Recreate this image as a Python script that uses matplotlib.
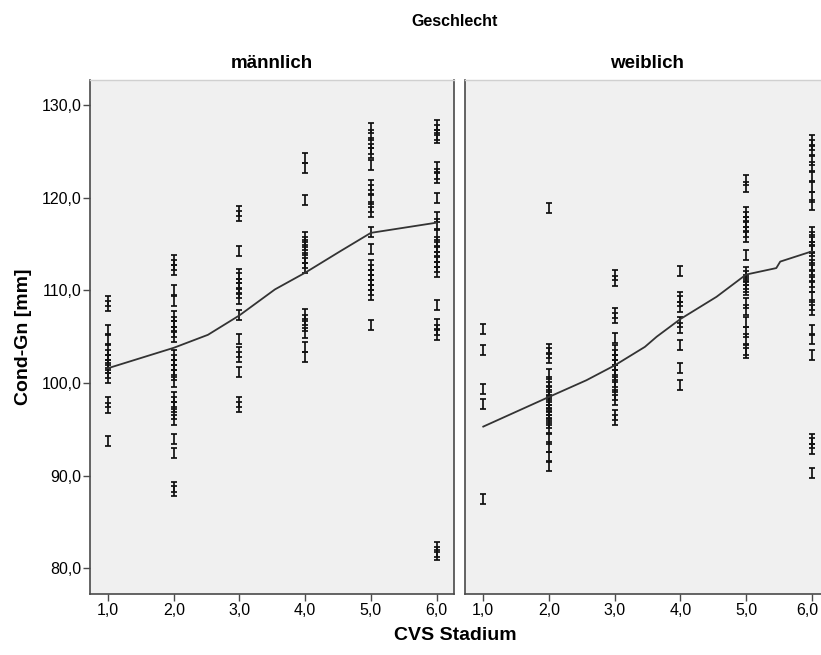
import matplotlib
matplotlib.use("Agg")
import matplotlib.pyplot as plt
import matplotlib.transforms as mtransforms
from matplotlib.path import Path
import numpy as np

plt.rcParams['font.family'] = ['Liberation Sans', 'DejaVu Sans']

# ---------------- data ----------------
panels = ["männlich", "weiblich"]
x_ticks = [1.0, 2.0, 3.0, 4.0, 5.0, 6.0]
x_ticklabels = ["1,0", "2,0", "3,0", "4,0", "5,0", "6,0"]
y_ticks = [80, 90, 100, 110, 120, 130]
y_ticklabels = ["80,0", "90,0", "100,0", "110,0", "120,0", "130,0"]

# männlich: values per CVS stage
m_s1 = [108.3, 108.9, 105.7, 104.7, 103.6, 103.0, 102.5, 101.9, 101.6, 101.1, 100.5, 98.0, 97.3, 93.7]
m_s2 = [113.3, 112.7, 112.2, 110.0, 108.9, 107.2, 106.6, 106.1, 105.5, 105.0, 103.0, 102.5, 101.9,
        101.4, 100.9, 100.1, 98.5, 98.0, 97.4, 96.7, 96.0, 94.0, 92.5, 88.8, 88.3]
m_s3 = [118.6, 118.0, 114.2, 111.8, 111.3, 110.7, 110.2, 109.7, 109.1, 107.3, 104.8, 103.4, 102.8,
        101.2, 98.0, 97.4]
m_s4 = [124.3, 123.2, 119.7, 115.8, 115.2, 114.9, 114.3, 113.5, 112.9, 112.4, 107.5, 106.8, 106.1,
        105.4, 103.9, 102.8]
m_s5 = [127.5, 126.8, 125.9, 125.3, 124.8, 123.5, 121.4, 120.8, 119.9, 119.0, 118.5, 116.3, 114.5,
        112.7, 112.2, 111.7, 111.1, 110.6, 110.0, 109.5, 106.3]
m_s6 = [127.8, 127.3, 126.8, 126.4, 123.3, 122.6, 122.1, 120.0, 117.9, 117.2, 116.0, 115.2, 114.7,
        114.2, 113.6, 113.1, 112.5, 112.0, 108.4, 106.4, 105.7, 105.2, 82.3, 81.8, 81.4]

# weiblich
w_s1 = [105.8, 103.6, 99.4, 97.7, 87.5]
w_s2 = [118.9, 103.7, 103.2, 102.7, 101.0, 100.1, 99.6, 99.1, 98.7, 98.2, 97.8, 97.4, 97.1, 96.7,
        96.4, 96.0, 95.7, 95.1, 94.0, 93.1, 92.0, 91.0]
w_s3 = [111.6, 111.0, 107.6, 107.0, 104.9, 103.6, 103.0, 102.5, 101.9, 101.4, 100.9, 100.1, 99.6,
        98.7, 98.2, 96.5, 96.0]
w_s4 = [112.1, 109.3, 108.8, 108.2, 106.6, 105.9, 104.1, 101.6, 99.8]
w_s5 = [121.9, 121.2, 118.5, 117.9, 117.4, 116.9, 116.3, 115.8, 113.8, 112.0, 111.5, 111.1, 110.7,
        110.4, 110.0, 108.6, 107.9, 106.6, 105.5, 104.8, 103.6, 103.2]
w_s6 = [126.2, 125.7, 125.0, 124.1, 123.3, 122.3, 121.2, 120.1, 119.2, 116.3, 115.8, 115.4, 114.7,
        114.2, 113.5, 112.7, 112.2, 111.5, 110.9, 110.4, 109.3, 108.4, 107.9, 105.7, 104.8, 103.0,
        94.0, 93.5, 92.9, 90.3]

m_groups = [m_s1, m_s2, m_s3, m_s4, m_s5, m_s6]
w_groups = [w_s1, w_s2, w_s3, w_s4, w_s5, w_s6]

# fit lines
m_fit_x = [1.0, 2.0, 2.52, 3.0, 3.54, 4.0, 4.53, 5.0, 6.0]
m_fit_y = [101.6, 103.8, 105.2, 107.3, 110.1, 111.9, 114.2, 116.2, 117.3]
w_fit_x = [1.0, 2.0, 2.57, 3.0, 3.46, 3.64, 4.0, 4.55, 5.0, 5.46, 5.52, 6.0]
w_fit_y = [95.3, 98.5, 100.3, 101.9, 103.9, 105.0, 106.9, 109.3, 111.7, 112.4, 113.1, 114.2]

# ---------------- drawing ----------------
W, H = 821, 655
fig = plt.figure(figsize=(W / 100, H / 100), dpi=100)

ibeam = Path([(-0.28, 0.5), (0.28, 0.5), (0, 0.5), (0, -0.5), (-0.28, -0.5), (0.28, -0.5)],
             [Path.MOVETO, Path.LINETO, Path.MOVETO, Path.LINETO, Path.MOVETO, Path.LINETO])

xlim = (0.725, 6.26)
ylim = (77.24, 132.69)
px_per_x = 65.7
ax_w = (xlim[1] - xlim[0]) * px_per_x
top_px, bot_px = 80, 594
left_px = [90.0, 465.2]

bg = '#F0F0F0'
spine_dark = '#4a4a4a'

axes = []
for i, (name, groups, fx, fy) in enumerate(zip(panels, [m_groups, w_groups],
                                                 [m_fit_x, w_fit_x], [m_fit_y, w_fit_y])):
    ax = fig.add_axes([left_px[i] / W, 1 - bot_px / H, ax_w / W, (bot_px - top_px) / H])
    ax.set_facecolor(bg)
    for xv, vals in zip(x_ticks, groups):
        ax.plot([xv] * len(vals), vals, linestyle='none', marker=ibeam, markersize=7.3,
                markeredgewidth=1.25, markeredgecolor='#111111')
    ax.plot(fx, fy, color='#333333', linewidth=1.3)
    ax.set_xlim(*xlim)
    ax.set_ylim(*ylim)
    ax.set_xticks(x_ticks)
    ax.set_xticklabels(x_ticklabels, fontsize=11.5)
    ax.tick_params(axis='x', direction='out', length=5, width=1, color=spine_dark, pad=1.5)
    if i == 0:
        ax.set_yticks(y_ticks)
        ax.set_yticklabels(y_ticklabels, fontsize=11.5)
        ax.tick_params(axis='y', direction='out', length=5, width=1, color=spine_dark, pad=1)
        ax.set_ylabel("Cond-Gn [mm]", fontsize=14, fontweight='bold', labelpad=7)
    else:
        ax.set_yticks([])
        # keep the last label inside the figure edge
        last = ax.get_xticklabels()[-1]
        last.set_transform(last.get_transform() +
                           mtransforms.ScaledTranslation(-4 / 100, 0, fig.dpi_scale_trans))
    for s in ['left', 'bottom', 'right']:
        ax.spines[s].set_color(spine_dark)
        ax.spines[s].set_linewidth(1.2)
    ax.spines['top'].set_color('#d0d0d0')
    ax.spines['top'].set_linewidth(1.0)
    ax.set_title(name, fontsize=13.5, fontweight='bold', pad=9)
    axes.append(ax)

fig.text(455 / W, 1 - 22 / H, "Geschlecht", ha='center', va='center', fontsize=11.5, fontweight='bold')
fig.text(455 / W, 1 - 636 / H, "CVS Stadium", ha='center', va='center', fontsize=14, fontweight='bold')

fig.savefig("out.png", dpi=100)
